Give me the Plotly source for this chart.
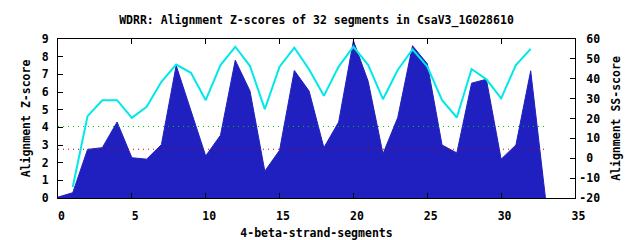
import plotly.graph_objects as go

# Z-score profile (filled area, left axis)
z_x = list(range(0, 34))
z_vals = [0.05, 0.3, 2.75, 2.85, 4.3, 2.28, 2.2, 3.02, 7.5, 5.0,
          2.38, 3.55, 7.8, 6.05, 1.52, 2.7, 7.22, 6.05, 2.85, 4.3,
          8.9, 6.6, 2.5, 4.55, 8.62, 7.6, 3.0, 2.55, 6.5, 6.72,
          2.2, 3.0, 7.2, 0.0]

# SS-score (cyan line, right axis)
ss_x = list(range(1, 33))
ss_vals = [-14.5, 21.2, 29.2, 29.2, 20.3, 25.9, 38.5, 47.1, 43.0, 29.2,
           46.9, 56.1, 46.4, 24.7, 46.1, 55.6, 44.7, 31.4, 46.1, 56.1,
           46.9, 29.7, 44.4, 54.8, 46.1, 29.2, 20.5, 44.9, 39.7, 30.1,
           46.9, 55.0]

# Threshold lines
thr_x = [0, 33]
thr_green = [4.05, 4.05]
thr_red = [2.76, 2.76]

x_ticks = [0, 5, 10, 15, 20, 25, 30, 35]
y_ticks = list(range(0, 10))
y2_ticks = [-20, -10, 0, 10, 20, 30, 40, 50, 60]

NB = "\u00a0"
FONT = "DejaVu Sans Mono"
FS = 11.5
tfont = dict(family=FONT, size=FS, color="black", weight="bold")

fig = go.Figure()
fig.add_trace(go.Scatter(x=z_x, y=z_vals, mode="lines", fill="tozeroy",
                         fillcolor="rgb(32,32,192)",
                         line=dict(color="rgb(32,32,192)", width=1),
                         hoverinfo="skip", showlegend=False))
fig.add_trace(go.Scatter(x=thr_x, y=thr_green, mode="lines",
                         line=dict(color="#00c000", width=1, dash="1px,4px"),
                         hoverinfo="skip", showlegend=False))
fig.add_trace(go.Scatter(x=thr_x, y=thr_red, mode="lines",
                         line=dict(color="#c00000", width=1, dash="1px,4px"),
                         hoverinfo="skip", showlegend=False))
fig.add_trace(go.Scatter(x=ss_x, y=ss_vals, mode="lines", yaxis="y2",
                         line=dict(color="#00e8e8", width=2),
                         hoverinfo="skip", showlegend=False))

axis_common = dict(showgrid=False, zeroline=False, showline=True,
                   linecolor="black", linewidth=1, ticks="inside",
                   ticklen=5, tickcolor="black", tickwidth=1,
                   tickfont=tfont, automargin=False)

fig.update_layout(
    width=640, height=240,
    margin=dict(l=58, r=65, t=39, b=42),
    paper_bgcolor="white", plot_bgcolor="white",
    font=tfont,
    title=dict(text="WDRR: Alignment Z-scores of 32 segments in CsaV3_1G028610",
               x=0.5, xref="paper", y=1 - 20 / 240, yref="container",
               yanchor="middle", xanchor="center", font=tfont),
    xaxis=dict(range=[0, 35], tickvals=x_ticks,
               ticktext=[NB + str(v) for v in x_ticks],
               mirror="ticks", ticklabelstandoff=7,
               title=dict(text="4-beta-strand-segments", standoff=8, font=tfont),
               **axis_common),
    yaxis=dict(range=[0, 9], tickvals=y_ticks,
               ticktext=[str(v) for v in y_ticks],
               title=dict(text="Alignment Z-score", standoff=8, font=tfont),
               ticklabelstandoff=6,
               **axis_common),
    yaxis2=dict(range=[-20, 60], tickvals=y2_ticks,
                ticktext=[(NB + str(v)) if v >= 0 else str(v) for v in y2_ticks],
                overlaying="y", side="right",
                title=dict(text="Alignment SS-score", standoff=12, font=tfont),
                ticklabelstandoff=1,
                **axis_common),
)

fig.write_html("out.html")
